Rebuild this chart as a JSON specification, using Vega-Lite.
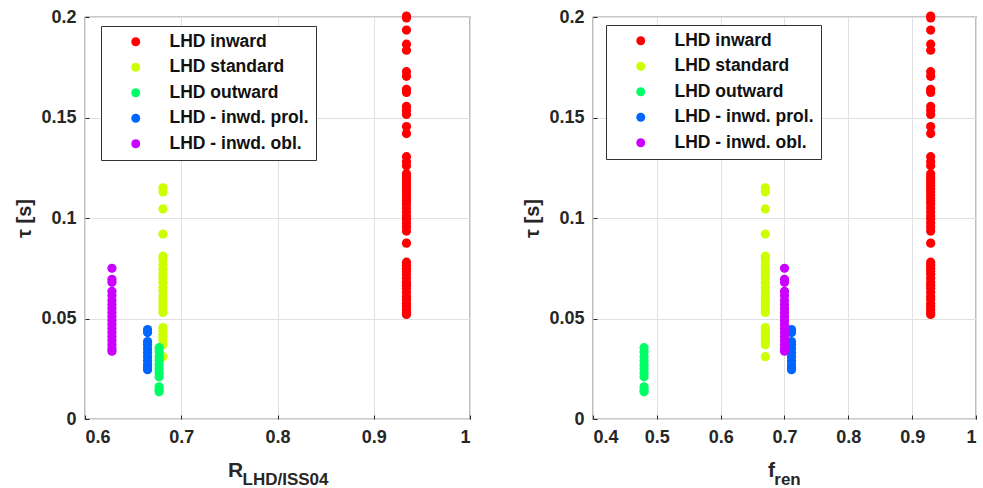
{
  "$schema": "https://vega.github.io/schema/vega-lite/v6.json",
  "background": "white",
  "padding": {"left": 14, "top": 7, "right": 5, "bottom": 5},
  "spacing": 50,
  "config": {
    "font": "Liberation Sans",
    "view": {"stroke": "#262626", "strokeWidth": 1.2},
    "axis": {
      "labelFont": "Liberation Sans", "labelFontWeight": "bold", "labelFontSize": 18, "labelColor": "#262626",
      "titleFont": "Liberation Sans", "titleFontWeight": "bold", "titleColor": "#262626",
      "gridColor": "#e0e0e0", "gridWidth": 1, "domain": false, "ticks": true, "tickSize": -4, "tickColor": "#262626", "tickWidth": 1, "labelPadding": 13
    },
    "legend": {
      "labelFont": "Liberation Sans", "labelFontWeight": "bold", "labelFontSize": 17.5, "labelColor": "#111111",
      "strokeColor": "#333333", "fillColor": "white", "padding": 7, "symbolOffset": 19,
      "symbolSize": 80, "symbolStrokeWidth": 0, "labelOffset": 25, "rowPadding": 6.5
    }
  },
  "datasets": {
    "pts": [
      {"g": "LHD inward", "R": 0.934, "f": 0.929, "tau": 0.2005},
      {"g": "LHD inward", "R": 0.934, "f": 0.929, "tau": 0.1995},
      {"g": "LHD inward", "R": 0.934, "f": 0.929, "tau": 0.1935},
      {"g": "LHD inward", "R": 0.934, "f": 0.929, "tau": 0.1865},
      {"g": "LHD inward", "R": 0.934, "f": 0.929, "tau": 0.1835},
      {"g": "LHD inward", "R": 0.934, "f": 0.929, "tau": 0.1728},
      {"g": "LHD inward", "R": 0.934, "f": 0.929, "tau": 0.1705},
      {"g": "LHD inward", "R": 0.934, "f": 0.929, "tau": 0.164},
      {"g": "LHD inward", "R": 0.934, "f": 0.929, "tau": 0.1625},
      {"g": "LHD inward", "R": 0.934, "f": 0.929, "tau": 0.1555},
      {"g": "LHD inward", "R": 0.934, "f": 0.929, "tau": 0.1535},
      {"g": "LHD inward", "R": 0.934, "f": 0.929, "tau": 0.1515},
      {"g": "LHD inward", "R": 0.934, "f": 0.929, "tau": 0.1455},
      {"g": "LHD inward", "R": 0.934, "f": 0.929, "tau": 0.142},
      {"g": "LHD inward", "R": 0.934, "f": 0.929, "tau": 0.1305},
      {"g": "LHD inward", "R": 0.934, "f": 0.929, "tau": 0.128},
      {"g": "LHD inward", "R": 0.934, "f": 0.929, "tau": 0.126},
      {"g": "LHD inward", "R": 0.934, "f": 0.929, "tau": 0.122},
      {"g": "LHD inward", "R": 0.934, "f": 0.929, "tau": 0.1205},
      {"g": "LHD inward", "R": 0.934, "f": 0.929, "tau": 0.119},
      {"g": "LHD inward", "R": 0.934, "f": 0.929, "tau": 0.1175},
      {"g": "LHD inward", "R": 0.934, "f": 0.929, "tau": 0.116},
      {"g": "LHD inward", "R": 0.934, "f": 0.929, "tau": 0.1145},
      {"g": "LHD inward", "R": 0.934, "f": 0.929, "tau": 0.113},
      {"g": "LHD inward", "R": 0.934, "f": 0.929, "tau": 0.1115},
      {"g": "LHD inward", "R": 0.934, "f": 0.929, "tau": 0.11},
      {"g": "LHD inward", "R": 0.934, "f": 0.929, "tau": 0.1085},
      {"g": "LHD inward", "R": 0.934, "f": 0.929, "tau": 0.107},
      {"g": "LHD inward", "R": 0.934, "f": 0.929, "tau": 0.105},
      {"g": "LHD inward", "R": 0.934, "f": 0.929, "tau": 0.103},
      {"g": "LHD inward", "R": 0.934, "f": 0.929, "tau": 0.101},
      {"g": "LHD inward", "R": 0.934, "f": 0.929, "tau": 0.0995},
      {"g": "LHD inward", "R": 0.934, "f": 0.929, "tau": 0.0975},
      {"g": "LHD inward", "R": 0.934, "f": 0.929, "tau": 0.0955},
      {"g": "LHD inward", "R": 0.934, "f": 0.929, "tau": 0.0935},
      {"g": "LHD inward", "R": 0.934, "f": 0.929, "tau": 0.0875},
      {"g": "LHD inward", "R": 0.934, "f": 0.929, "tau": 0.078},
      {"g": "LHD inward", "R": 0.934, "f": 0.929, "tau": 0.0765},
      {"g": "LHD inward", "R": 0.934, "f": 0.929, "tau": 0.075},
      {"g": "LHD inward", "R": 0.934, "f": 0.929, "tau": 0.0735},
      {"g": "LHD inward", "R": 0.934, "f": 0.929, "tau": 0.072},
      {"g": "LHD inward", "R": 0.934, "f": 0.929, "tau": 0.07},
      {"g": "LHD inward", "R": 0.934, "f": 0.929, "tau": 0.068},
      {"g": "LHD inward", "R": 0.934, "f": 0.929, "tau": 0.0665},
      {"g": "LHD inward", "R": 0.934, "f": 0.929, "tau": 0.065},
      {"g": "LHD inward", "R": 0.934, "f": 0.929, "tau": 0.063},
      {"g": "LHD inward", "R": 0.934, "f": 0.929, "tau": 0.061},
      {"g": "LHD inward", "R": 0.934, "f": 0.929, "tau": 0.0595},
      {"g": "LHD inward", "R": 0.934, "f": 0.929, "tau": 0.0575},
      {"g": "LHD inward", "R": 0.934, "f": 0.929, "tau": 0.056},
      {"g": "LHD inward", "R": 0.934, "f": 0.929, "tau": 0.0545},
      {"g": "LHD inward", "R": 0.934, "f": 0.929, "tau": 0.053},
      {"g": "LHD inward", "R": 0.934, "f": 0.929, "tau": 0.052},
      {"g": "LHD standard", "R": 0.681, "f": 0.67, "tau": 0.115},
      {"g": "LHD standard", "R": 0.681, "f": 0.67, "tau": 0.113},
      {"g": "LHD standard", "R": 0.681, "f": 0.67, "tau": 0.1045},
      {"g": "LHD standard", "R": 0.681, "f": 0.67, "tau": 0.092},
      {"g": "LHD standard", "R": 0.681, "f": 0.67, "tau": 0.081},
      {"g": "LHD standard", "R": 0.681, "f": 0.67, "tau": 0.079},
      {"g": "LHD standard", "R": 0.681, "f": 0.67, "tau": 0.0765},
      {"g": "LHD standard", "R": 0.681, "f": 0.67, "tau": 0.0745},
      {"g": "LHD standard", "R": 0.681, "f": 0.67, "tau": 0.072},
      {"g": "LHD standard", "R": 0.681, "f": 0.67, "tau": 0.07},
      {"g": "LHD standard", "R": 0.681, "f": 0.67, "tau": 0.068},
      {"g": "LHD standard", "R": 0.681, "f": 0.67, "tau": 0.0655},
      {"g": "LHD standard", "R": 0.681, "f": 0.67, "tau": 0.0635},
      {"g": "LHD standard", "R": 0.681, "f": 0.67, "tau": 0.061},
      {"g": "LHD standard", "R": 0.681, "f": 0.67, "tau": 0.059},
      {"g": "LHD standard", "R": 0.681, "f": 0.67, "tau": 0.057},
      {"g": "LHD standard", "R": 0.681, "f": 0.67, "tau": 0.055},
      {"g": "LHD standard", "R": 0.681, "f": 0.67, "tau": 0.053},
      {"g": "LHD standard", "R": 0.681, "f": 0.67, "tau": 0.0455},
      {"g": "LHD standard", "R": 0.681, "f": 0.67, "tau": 0.044},
      {"g": "LHD standard", "R": 0.681, "f": 0.67, "tau": 0.042},
      {"g": "LHD standard", "R": 0.681, "f": 0.67, "tau": 0.0405},
      {"g": "LHD standard", "R": 0.681, "f": 0.67, "tau": 0.039},
      {"g": "LHD standard", "R": 0.681, "f": 0.67, "tau": 0.037},
      {"g": "LHD standard", "R": 0.681, "f": 0.67, "tau": 0.031},
      {"g": "LHD outward", "R": 0.677, "f": 0.48, "tau": 0.0355},
      {"g": "LHD outward", "R": 0.677, "f": 0.48, "tau": 0.0335},
      {"g": "LHD outward", "R": 0.677, "f": 0.48, "tau": 0.031},
      {"g": "LHD outward", "R": 0.677, "f": 0.48, "tau": 0.029},
      {"g": "LHD outward", "R": 0.677, "f": 0.48, "tau": 0.027},
      {"g": "LHD outward", "R": 0.677, "f": 0.48, "tau": 0.025},
      {"g": "LHD outward", "R": 0.677, "f": 0.48, "tau": 0.023},
      {"g": "LHD outward", "R": 0.677, "f": 0.48, "tau": 0.021},
      {"g": "LHD outward", "R": 0.677, "f": 0.48, "tau": 0.016},
      {"g": "LHD outward", "R": 0.677, "f": 0.48, "tau": 0.0145},
      {"g": "LHD outward", "R": 0.677, "f": 0.48, "tau": 0.0135},
      {"g": "LHD - inwd. prol.", "R": 0.665, "f": 0.711, "tau": 0.0445},
      {"g": "LHD - inwd. prol.", "R": 0.665, "f": 0.711, "tau": 0.043},
      {"g": "LHD - inwd. prol.", "R": 0.665, "f": 0.711, "tau": 0.0385},
      {"g": "LHD - inwd. prol.", "R": 0.665, "f": 0.711, "tau": 0.037},
      {"g": "LHD - inwd. prol.", "R": 0.665, "f": 0.711, "tau": 0.035},
      {"g": "LHD - inwd. prol.", "R": 0.665, "f": 0.711, "tau": 0.033},
      {"g": "LHD - inwd. prol.", "R": 0.665, "f": 0.711, "tau": 0.031},
      {"g": "LHD - inwd. prol.", "R": 0.665, "f": 0.711, "tau": 0.029},
      {"g": "LHD - inwd. prol.", "R": 0.665, "f": 0.711, "tau": 0.027},
      {"g": "LHD - inwd. prol.", "R": 0.665, "f": 0.711, "tau": 0.0255},
      {"g": "LHD - inwd. prol.", "R": 0.665, "f": 0.711, "tau": 0.0245},
      {"g": "LHD - inwd. obl.", "R": 0.628, "f": 0.7, "tau": 0.075},
      {"g": "LHD - inwd. obl.", "R": 0.628, "f": 0.7, "tau": 0.0695},
      {"g": "LHD - inwd. obl.", "R": 0.628, "f": 0.7, "tau": 0.068},
      {"g": "LHD - inwd. obl.", "R": 0.628, "f": 0.7, "tau": 0.0635},
      {"g": "LHD - inwd. obl.", "R": 0.628, "f": 0.7, "tau": 0.0615},
      {"g": "LHD - inwd. obl.", "R": 0.628, "f": 0.7, "tau": 0.059},
      {"g": "LHD - inwd. obl.", "R": 0.628, "f": 0.7, "tau": 0.057},
      {"g": "LHD - inwd. obl.", "R": 0.628, "f": 0.7, "tau": 0.055},
      {"g": "LHD - inwd. obl.", "R": 0.628, "f": 0.7, "tau": 0.053},
      {"g": "LHD - inwd. obl.", "R": 0.628, "f": 0.7, "tau": 0.051},
      {"g": "LHD - inwd. obl.", "R": 0.628, "f": 0.7, "tau": 0.049},
      {"g": "LHD - inwd. obl.", "R": 0.628, "f": 0.7, "tau": 0.047},
      {"g": "LHD - inwd. obl.", "R": 0.628, "f": 0.7, "tau": 0.045},
      {"g": "LHD - inwd. obl.", "R": 0.628, "f": 0.7, "tau": 0.043},
      {"g": "LHD - inwd. obl.", "R": 0.628, "f": 0.7, "tau": 0.041},
      {"g": "LHD - inwd. obl.", "R": 0.628, "f": 0.7, "tau": 0.039},
      {"g": "LHD - inwd. obl.", "R": 0.628, "f": 0.7, "tau": 0.037},
      {"g": "LHD - inwd. obl.", "R": 0.628, "f": 0.7, "tau": 0.035},
      {"g": "LHD - inwd. obl.", "R": 0.628, "f": 0.7, "tau": 0.0337}
    ]
  },
  "resolve": {"legend": {"color": "independent"}},
  "hconcat": [
    {
      "width": 385,
      "height": 402,
      "data": {"name": "pts"},
      "resolve": {"axis": {"x": "independent"}},
      "layer": [
        {
          "mark": {"type": "point", "filled": true, "shape": "circle", "size": 85, "opacity": 1},
          "encoding": {
            "x": {"field": "R", "type": "quantitative", "scale": {"domain": [0.6, 1], "nice": false},
              "axis": {"orient": "bottom", "values": [0.6, 0.7, 0.8, 0.9, 1], "format": "~g", "title": "R", "titleFontSize": 21,
                "titleAlign": "center", "titleBaseline": "alphabetic", "titleX": 150, "titleY": 57}},
            "y": {"field": "tau", "type": "quantitative", "scale": {"domain": [0, 0.2], "nice": false},
              "axis": {"values": [0, 0.05, 0.1, 0.15, 0.2], "format": "~g", "title": "τ [s]", "titleFontSize": 20, "titlePadding": 6}},
            "color": {"field": "g", "type": "nominal",
              "scale": {"domain": ["LHD inward", "LHD standard", "LHD outward", "LHD - inwd. prol.", "LHD - inwd. obl."],
                "range": ["#ff0000", "#ccff00", "#00ff66", "#0066ff", "#cc00ff"]},
              "legend": {"title": null, "orient": "none", "legendX": 16, "legendY": 9, "symbolType": "circle"}}
          }
        },
        {
          "mark": {"type": "point", "opacity": 0},
          "encoding": {
            "x": {"field": "R", "type": "quantitative", "scale": {"domain": [0.6, 1], "nice": false},
              "axis": {"orient": "bottom", "labels": false, "grid": false, "ticks": false, "domain": false, "title": "LHD/ISS04", "titleFontSize": 17,
                "titleAlign": "center", "titleBaseline": "alphabetic", "titleX": 200, "titleY": 65}},
            "y": {"field": "tau", "type": "quantitative"}
          }
        }
      ]
    },
    {
      "width": 383,
      "height": 402,
      "data": {"name": "pts"},
      "resolve": {"axis": {"x": "independent"}},
      "layer": [
        {
          "mark": {"type": "point", "filled": true, "shape": "circle", "size": 85, "opacity": 1},
          "encoding": {
            "x": {"field": "f", "type": "quantitative", "scale": {"domain": [0.4, 1], "nice": false},
              "axis": {"orient": "bottom", "values": [0.4, 0.5, 0.6, 0.7, 0.8, 0.9, 1], "format": "~g", "title": "f", "titleFontSize": 21,
                "titleAlign": "center", "titleBaseline": "alphabetic", "titleX": 178, "titleY": 57}},
            "y": {"field": "tau", "type": "quantitative", "scale": {"domain": [0, 0.2], "nice": false},
              "axis": {"values": [0, 0.05, 0.1, 0.15, 0.2], "format": "~g", "title": "τ [s]", "titleFontSize": 20, "titlePadding": 6}},
            "color": {"field": "g", "type": "nominal",
              "scale": {"domain": ["LHD inward", "LHD standard", "LHD outward", "LHD - inwd. prol.", "LHD - inwd. obl."],
                "range": ["#ff0000", "#ccff00", "#00ff66", "#0066ff", "#cc00ff"]},
              "legend": {"title": null, "orient": "none", "legendX": 13, "legendY": 8, "symbolType": "circle"}}
          }
        },
        {
          "mark": {"type": "point", "opacity": 0},
          "encoding": {
            "x": {"field": "f", "type": "quantitative", "scale": {"domain": [0.4, 1], "nice": false},
              "axis": {"orient": "bottom", "labels": false, "grid": false, "ticks": false, "domain": false, "title": "ren", "titleFontSize": 17,
                "titleAlign": "center", "titleBaseline": "alphabetic", "titleX": 194, "titleY": 65}},
            "y": {"field": "tau", "type": "quantitative"}
          }
        }
      ]
    }
  ]
}
